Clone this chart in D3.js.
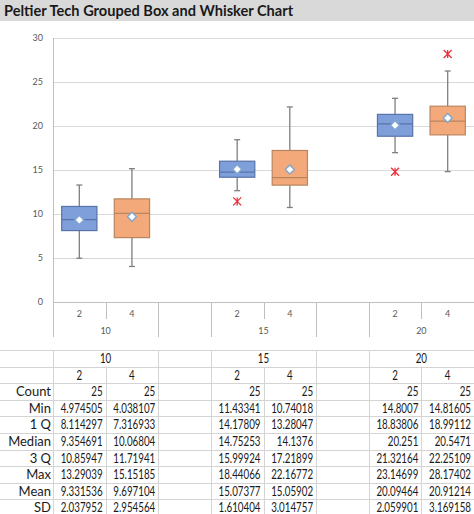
<!DOCTYPE html>
<html>
<head>
<meta charset="utf-8">
<script src="https://cdn.jsdelivr.net/npm/d3@7"></script>
<style>
  html, body { margin: 0; padding: 0; background: #fff; }
  svg { display: block; }
</style>
</head>
<body>
<svg id="chart" width="474" height="514"></svg>
<script>
// ---------------- DATA ----------------
const title = "Peltier Tech Grouped Box and Whisker Chart";
const groups = ["10", "15", "20"];
const series = ["2", "4"];
const yTicks = [0, 5, 10, 15, 20, 25, 30];

// box statistics per group, per series ("2", "4")
const q1 =      [[8.114297, 7.316933], [14.17809, 13.28047], [18.83806, 18.99112]];
const median =  [[9.354691, 10.06804], [14.75253, 14.1376],  [20.251, 20.5471]];
const q3 =      [[10.85947, 11.71941], [15.99924, 17.21899], [21.32164, 22.25109]];
const mean =    [[9.331536, 9.697104], [15.07377, 15.05902], [20.09464, 20.91214]];
// whisker ends (excluding outliers)
const whiskLo = [[4.974505, 4.038107], [12.65, 10.74018],    [16.97, 14.81605]];
const whiskHi = [[13.29039, 15.15185], [18.44066, 22.16772], [23.14699, 26.25]];
// outliers
const outliers = [[[], []], [[11.43341], []], [[14.8007], [28.17402]]];

// table
const rowLabels = ["Count", "Min", "1 Q", "Median", "3 Q", "Max", "Mean", "SD"];
const tableVals = [
  // [10-2, 10-4, 15-2, 15-4, 20-2, 20-4]
  ["25", "25", "25", "25", "25", "25"],
  ["4.974505", "4.038107", "11.43341", "10.74018", "14.8007", "14.81605"],
  ["8.114297", "7.316933", "14.17809", "13.28047", "18.83806", "18.99112"],
  ["9.354691", "10.06804", "14.75253", "14.1376", "20.251", "20.5471"],
  ["10.85947", "11.71941", "15.99924", "17.21899", "21.32164", "22.25109"],
  ["13.29039", "15.15185", "18.44066", "22.16772", "23.14699", "28.17402"],
  ["9.331536", "9.697104", "15.07377", "15.05902", "20.09464", "20.91214"],
  ["2.037952", "2.954564", "1.610404", "3.014757", "2.059901", "3.169158"]
];

// ---------------- LAYOUT ----------------
const svg = d3.select("#chart");
const W = 474;
const plotLeft = 53, plotRight = 474, plotTop = 38, plotBottom = 302;
const colors = {
  fill: ["#7f9fdb", "#f4a97a"],
  stroke: ["#5873a8", "#b98560"],
  whisker: "#7f7f7f",
  grid: "#d9d9d9",
  axis: "#bfbfbf",
  label: "#595959",
  outlier: "#e8313c"
};

const slots = [];
groups.forEach((g, gi) => {
  series.forEach(s => slots.push(g + "|" + s));
  if (gi < groups.length - 1) slots.push("gap" + gi);
});
const x = d3.scaleBand().domain(slots).range([plotLeft, plotRight]).padding(0);
const y = d3.scaleLinear().domain([0, 30]).range([plotBottom, plotTop]);
const bw = x.bandwidth();
const boxW = bw * 0.67;

// title bar
svg.append("rect").attr("x", 0).attr("y", 0).attr("width", W).attr("height", 21).attr("fill", "#d9d9d9");
svg.append("text").attr("x", 4).attr("y", 16)
  .attr("font-family", "Lato, 'Open Sans', sans-serif").attr("font-weight", "bold")
  .attr("font-size", 14.6).attr("fill", "#1a1a1a").text(title);

// gridlines + y labels
const yAxis = svg.append("g");
yTicks.forEach(t => {
  if (t > 0) {
    yAxis.append("line").attr("x1", plotLeft).attr("x2", plotRight)
      .attr("y1", y(t) + 0.5).attr("y2", y(t) + 0.5)
      .attr("stroke", colors.grid).attr("stroke-width", 1);
  }
  yAxis.append("text").attr("x", 43).attr("y", y(t)).attr("dy", "0.35em")
    .attr("text-anchor", "end").attr("font-family", "Lato, sans-serif")
    .attr("font-size", 9).attr("fill", colors.label).text(t);
});

// category axis
const ax = svg.append("g");
ax.append("line").attr("x1", plotLeft).attr("x2", plotRight)
  .attr("y1", plotBottom + 0.5).attr("y2", plotBottom + 0.5).attr("stroke", colors.axis);
ax.append("line").attr("x1", plotLeft + 0.5).attr("x2", plotLeft + 0.5)
  .attr("y1", plotTop).attr("y2", 337).attr("stroke", colors.axis);
slots.forEach((s, i) => {
  if (i === 0) return;
  const xl = x(s);
  const prevGap = slots[i - 1].startsWith("gap");
  const long = s.startsWith("gap") || prevGap;
  ax.append("line").attr("x1", Math.round(xl) + 0.5).attr("x2", Math.round(xl) + 0.5)
    .attr("y1", plotBottom).attr("y2", long ? 337 : 319).attr("stroke", colors.axis);
});
groups.forEach(g => {
  series.forEach(s => {
    ax.append("text").attr("x", x(g + "|" + s) + bw / 2).attr("y", 317)
      .attr("text-anchor", "middle").attr("font-family", "Lato, sans-serif")
      .attr("font-size", 9).attr("fill", colors.label).text(s);
  });
  ax.append("text").attr("x", x(g + "|" + series[0]) + bw).attr("y", 334)
    .attr("text-anchor", "middle").attr("font-family", "Lato, sans-serif")
    .attr("font-size", 9).attr("fill", colors.label).text(g);
});

// boxes
const marks = svg.append("g");
groups.forEach((g, gi) => {
  series.forEach((s, si) => {
    const cx = x(g + "|" + s) + bw / 2;
    const left = cx - boxW / 2;
    marks.append("line").attr("x1", cx).attr("x2", cx)
      .attr("y1", y(whiskHi[gi][si])).attr("y2", y(q3[gi][si]))
      .attr("stroke", colors.whisker).attr("stroke-width", 1.3);
    marks.append("line").attr("x1", cx).attr("x2", cx)
      .attr("y1", y(q1[gi][si])).attr("y2", y(whiskLo[gi][si]))
      .attr("stroke", colors.whisker).attr("stroke-width", 1.3);
    [whiskHi[gi][si], whiskLo[gi][si]].forEach(v => {
      marks.append("line").attr("x1", cx - 3).attr("x2", cx + 3)
        .attr("y1", y(v)).attr("y2", y(v))
        .attr("stroke", colors.whisker).attr("stroke-width", 1.3);
    });
    marks.append("rect").attr("x", left).attr("width", boxW)
      .attr("y", y(q3[gi][si])).attr("height", y(q1[gi][si]) - y(q3[gi][si]))
      .attr("fill", colors.fill[si]).attr("stroke", colors.stroke[si]).attr("stroke-width", 1.2);
    marks.append("line").attr("x1", left).attr("x2", left + boxW)
      .attr("y1", y(median[gi][si])).attr("y2", y(median[gi][si]))
      .attr("stroke", colors.stroke[si]).attr("stroke-width", 1.2);
    const my = y(mean[gi][si]);
    const d = 4.5;
    marks.append("path")
      .attr("d", `M${cx},${my - d}L${cx + d},${my}L${cx},${my + d}L${cx - d},${my}Z`)
      .attr("fill", "#ffffff").attr("stroke", "#7fa7cf").attr("stroke-width", 1.4);
    outliers[gi][si].forEach(v => {
      const oy = y(v), r = 4;
      const p = `M${cx - r},${oy - r}L${cx + r},${oy + r}M${cx - r},${oy + r}L${cx + r},${oy - r}M${cx},${oy - r}L${cx},${oy + r}`;
      marks.append("path").attr("d", p).attr("stroke", colors.outlier).attr("stroke-width", 1.3).attr("fill", "none");
    });
  });
});

// ---------------- TABLE ----------------
const tTop = 350, rowH = 16.6;
const tbl = svg.append("g");
const tFont = "Lato, 'Liberation Sans', sans-serif";
const tSize = 13;
const tColor = "#1a1a1a";
const probe = tbl.append("text").attr("font-family", tFont).attr("font-size", tSize).text("4.974505");
const numFactor = Math.min(1, 42 / probe.node().getComputedTextLength());
probe.remove();
function cellText(xp, yp, str, anchor) {
  const isNum = /^[0-9.]+$/.test(str);
  const f = isNum ? numFactor : 1;
  const t = tbl.append("text").attr("x", xp / f).attr("y", yp).attr("dy", "0.36em")
    .attr("text-anchor", anchor).attr("font-family", tFont).attr("font-size", tSize)
    .attr("fill", tColor).text(str);
  if (isNum) t.attr("transform", `scale(${f},1)`);
  return t;
}

const nRows = 2 + rowLabels.length;
for (let r = 0; r <= nRows; r++) {
  tbl.append("line").attr("x1", 0).attr("x2", W)
    .attr("y1", Math.round(tTop + r * rowH) + 0.5).attr("y2", Math.round(tTop + r * rowH) + 0.5)
    .attr("stroke", "#d4d4d4");
}
const colEdges = [plotLeft].concat(slots.map(s => x(s) + bw));
colEdges.forEach((xe, i) => {
  const slotLeft = i > 0 ? slots[i - 1] : null;
  const inner = slotLeft && !slotLeft.startsWith("gap") && slotLeft.endsWith("|" + series[0]);
  tbl.append("line").attr("x1", Math.round(xe) + 0.5).attr("x2", Math.round(xe) + 0.5)
    .attr("y1", inner ? tTop + rowH : tTop).attr("y2", 514).attr("stroke", "#d4d4d4");
});
groups.forEach(g => {
  cellText(x(g + "|" + series[0]) + bw, tTop + rowH / 2, g, "middle");
  series.forEach(s => {
    cellText(x(g + "|" + s) + bw / 2, tTop + rowH * 1.5, s, "middle");
  });
});
rowLabels.forEach((lab, r) => {
  const cy = tTop + rowH * (r + 2.5);
  cellText(plotLeft - 2, cy, lab, "end");
  let k = 0;
  groups.forEach(g => {
    series.forEach(s => {
      cellText(x(g + "|" + s) + bw - 3, cy, tableVals[r][k++], "end");
    });
  });
});
</script>
</body>
</html>
